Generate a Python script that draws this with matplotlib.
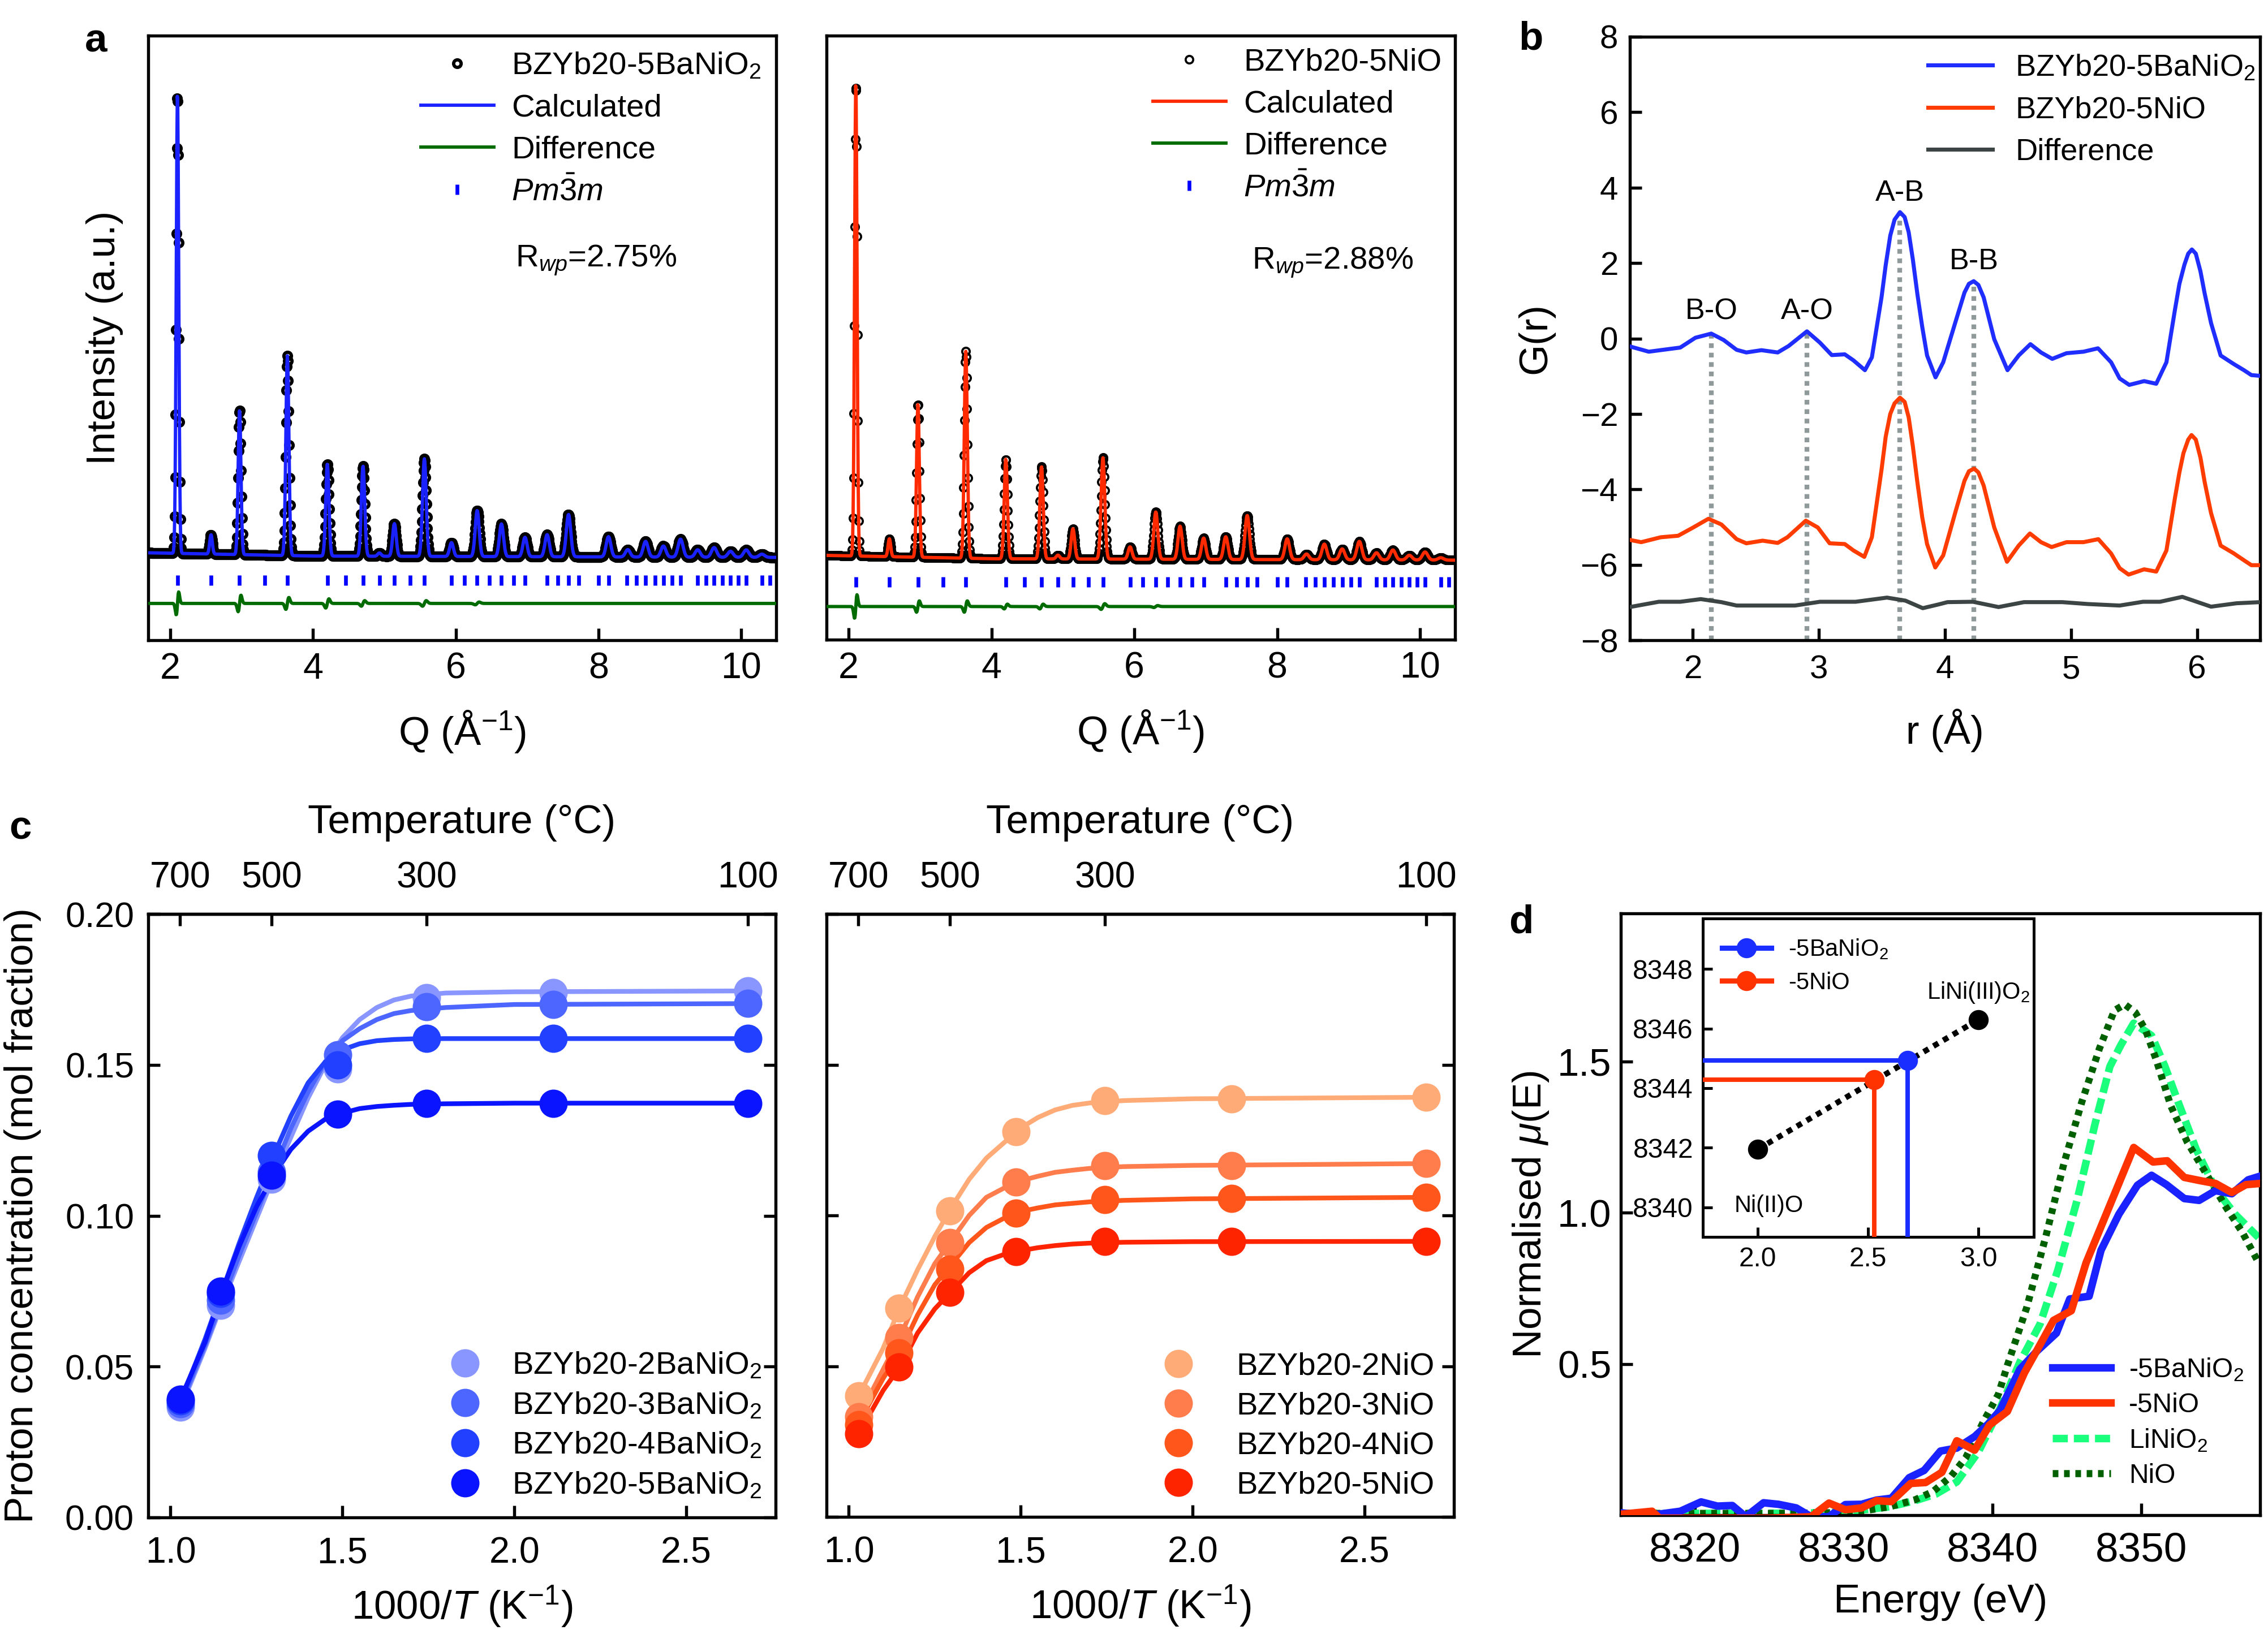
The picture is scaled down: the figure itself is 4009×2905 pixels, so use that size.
import numpy as np
import matplotlib
matplotlib.use("Agg")
import matplotlib.pyplot as plt

plt.rcParams['font.family'] = ['Liberation Sans', 'DejaVu Sans']
plt.rcParams['mathtext.fontset'] = 'custom'
plt.rcParams['mathtext.rm'] = 'Liberation Sans'
plt.rcParams['mathtext.it'] = 'Liberation Sans:italic'
plt.rcParams['mathtext.bf'] = 'Liberation Sans:bold'
plt.rcParams['axes.linewidth'] = 1.3

# ============================================================
# DATA
# ============================================================

# --- a: diffraction (peak positions / heights) ---
q_ticks = [2.10, 2.57, 2.97, 3.32, 3.64, 4.20, 4.46, 4.70, 4.93, 5.14, 5.36, 5.56,
           5.94, 6.12, 6.30, 6.47, 6.64, 6.81, 6.97, 7.28, 7.43, 7.58, 7.72, 8.00,
           8.14, 8.40, 8.53, 8.66, 8.79, 8.91, 9.03, 9.15, 9.39, 9.51, 9.62, 9.74,
           9.85, 9.96, 10.07, 10.29, 10.40]
peak_q = [2.10, 2.57, 2.97, 3.64, 4.20, 4.70, 4.93, 5.14, 5.56, 5.94, 6.30, 6.64,
          6.97, 7.28, 7.58, 8.14, 8.41, 8.66, 8.91, 9.15, 9.39, 9.62, 9.85, 10.07, 10.29]
peak_h_ba = [100, 4.2, 31.4, 43.4, 20.0, 19.6, 0.7, 7.1, 21.2, 3.0, 10.0, 7.1,
             4.2, 4.8, 9.2, 4.4, 1.6, 3.4, 2.4, 3.9, 1.6, 2.1, 1.3, 1.6, 0.7]
peak_h_ni = [100, 3.8, 32.4, 43.7, 21.1, 19.5, 0.8, 6.4, 21.4, 2.6, 10.0, 7.0,
             4.5, 4.8, 9.3, 4.4, 1.2, 3.3, 2.3, 3.9, 1.5, 2.1, 1.0, 1.7, 0.5]
bg_q = [1.7, 4.0, 10.5]
bg_i = [1.0, 0.3, 0.0]
diff_q = [2.10, 2.97, 3.64, 4.20, 4.70, 5.56, 6.30]
diff_a_ba = [2.5, 1.8, 1.3, 1.0, 0.6, 0.6, 0.3]
diff_a_ni = [2.5, 1.2, 1.2, 0.5, 0.5, 0.6, 0.2]

# --- b: PDF G(r) ---
r_ba = [1.50, 1.65, 1.90, 2.02, 2.146, 2.244, 2.347, 2.424, 2.544, 2.673, 2.759, 2.905,
        3.008, 3.102, 3.205, 3.274, 3.365, 3.42, 3.497, 3.53, 3.566, 3.60, 3.643, 3.68,
        3.712, 3.745, 3.781, 3.82, 3.858, 3.925, 3.986, 4.088, 4.155, 4.19, 4.228, 4.265,
        4.307, 4.391, 4.496, 4.585, 4.678, 4.762, 4.851, 4.964, 5.099, 5.214, 5.318, 5.386,
        5.462, 5.580, 5.676, 5.757, 5.824, 5.86, 5.90, 5.93, 5.959, 5.99, 6.027, 6.06,
        6.111, 6.187, 6.288, 6.372, 6.431, 6.50]
g_ba = [-0.21, -0.35, -0.24, 0.02, 0.13, -0.04, -0.30, -0.37, -0.31, -0.37, -0.20, 0.19,
        -0.11, -0.44, -0.42, -0.58, -0.84, -0.50, 1.10, 1.95, 2.73, 3.15, 3.35, 3.22,
        2.82, 2.10, 1.18, 0.30, -0.45, -1.03, -0.63, 0.49, 1.22, 1.45, 1.52, 1.42,
        1.09, -0.02, -0.84, -0.45, -0.15, -0.37, -0.54, -0.39, -0.35, -0.26, -0.63, -1.06,
        -1.23, -1.13, -1.20, -0.63, 0.75, 1.45, 1.96, 2.25, 2.36, 2.25, 1.78, 1.20,
        0.41, -0.45, -0.67, -0.84, -0.97, -0.99]
r_ni = [1.50, 1.59, 1.745, 1.883, 2.003, 2.123, 2.226, 2.347, 2.424, 2.553, 2.673, 2.75,
        2.896, 2.991, 3.085, 3.205, 3.274, 3.36, 3.42, 3.497, 3.53, 3.566, 3.60, 3.643,
        3.68, 3.712, 3.745, 3.781, 3.82, 3.858, 3.923, 3.986, 4.088, 4.155, 4.19, 4.231,
        4.265, 4.307, 4.391, 4.492, 4.585, 4.674, 4.762, 4.846, 4.964, 5.099, 5.217, 5.318,
        5.386, 5.457, 5.580, 5.676, 5.757, 5.824, 5.86, 5.892, 5.93, 5.956, 5.99, 6.027,
        6.06, 6.111, 6.187, 6.288, 6.372, 6.431, 6.50]
g_ni = [-5.34, -5.40, -5.27, -5.23, -5.01, -4.78, -4.93, -5.32, -5.43, -5.36, -5.42, -5.27,
        -4.83, -5.01, -5.43, -5.45, -5.62, -5.79, -5.27, -3.47, -2.60, -2.00, -1.72, -1.57,
        -1.68, -2.09, -2.85, -3.81, -4.75, -5.45, -6.07, -5.75, -4.54, -3.77, -3.52, -3.45,
        -3.55, -3.90, -5.01, -5.92, -5.49, -5.17, -5.40, -5.53, -5.40, -5.40, -5.32, -5.70,
        -6.09, -6.26, -6.12, -6.18, -5.62, -4.24, -3.55, -3.04, -2.68, -2.56, -2.68, -3.16,
        -3.80, -4.63, -5.49, -5.69, -5.88, -6.01, -6.01]
r_diff = [1.50, 1.73, 1.90, 2.063, 2.226, 2.347, 2.518, 2.81, 3.008, 3.291, 3.54, 3.686,
          3.824, 3.95, 4.02, 4.222, 4.425, 4.627, 4.931, 5.133, 5.386, 5.571, 5.706, 5.883,
          6.111, 6.313, 6.50]
g_diff = [-7.12, -6.98, -6.98, -6.91, -6.99, -7.08, -7.08, -7.08, -6.98, -6.98, -6.87, -6.95,
          -7.15, -7.05, -6.99, -6.98, -7.12, -6.99, -6.99, -7.04, -7.08, -6.98, -6.98, -6.85,
          -7.11, -7.02, -6.99]
bond_names = ["B-O", "A-O", "A-B", "B-B"]
bond_r = [2.146, 2.905, 3.643, 4.228]
bond_top = [0.13, 0.19, 3.35, 1.52]
bond_label_y = [0.71, 0.71, 3.85, 2.04]

# --- c: proton concentration ---
temp_c = [700, 500, 300, 100]
inv_t = [1.028, 1.145, 1.293, 1.486, 1.745, 2.113, 2.680]
fit_x = [1.028, 1.10, 1.15, 1.20, 1.25, 1.30, 1.35, 1.40, 1.45, 1.50, 1.55, 1.60,
         1.65, 1.70, 1.80, 2.00, 2.68]
ba_names = ["BZYb20-2BaNiO$_2$", "BZYb20-3BaNiO$_2$", "BZYb20-4BaNiO$_2$", "BZYb20-5BaNiO$_2$"]
ba_pts = [[0.0365, 0.0702, 0.112, 0.1487, 0.1723, 0.174, 0.1745],
          [0.0377, 0.072, 0.1145, 0.1533, 0.1692, 0.170, 0.1703],
          [0.0386, 0.0743, 0.120, 0.150, 0.1587, 0.1587, 0.1587],
          [0.0392, 0.075, 0.1134, 0.1336, 0.1373, 0.1373, 0.1373]]
ba_fit = [[0.036, 0.056, 0.071, 0.085, 0.099, 0.113, 0.126, 0.139, 0.150, 0.159, 0.165, 0.169,
           0.1715, 0.1728, 0.1738, 0.1742, 0.1745],
          [0.037, 0.057, 0.072, 0.087, 0.101, 0.115, 0.129, 0.141, 0.151, 0.158, 0.162, 0.165,
           0.167, 0.168, 0.169, 0.170, 0.1703],
          [0.038, 0.059, 0.075, 0.091, 0.106, 0.120, 0.133, 0.144, 0.151, 0.155, 0.157, 0.158,
           0.1584, 0.1586, 0.1587, 0.1587, 0.1587],
          [0.039, 0.058, 0.075, 0.090, 0.103, 0.1135, 0.122, 0.128, 0.132, 0.134, 0.1355, 0.1362,
           0.1366, 0.1369, 0.1371, 0.1373, 0.1373]]
ni_names = ["BZYb20-2NiO", "BZYb20-3NiO", "BZYb20-4NiO", "BZYb20-5NiO"]
ni_pts = [[0.0401, 0.0693, 0.1015, 0.1277, 0.138, 0.1387, 0.1392],
          [0.0333, 0.0595, 0.091, 0.111, 0.1166, 0.1166, 0.1172],
          [0.0306, 0.0544, 0.0822, 0.1007, 0.1052, 0.1056, 0.106],
          [0.0275, 0.0498, 0.0745, 0.0879, 0.0914, 0.0914, 0.0914]]
ni_fit = [[0.040, 0.056, 0.070, 0.082, 0.093, 0.103, 0.112, 0.119, 0.124, 0.129, 0.1325, 0.135,
           0.1365, 0.1373, 0.1381, 0.1387, 0.1392],
          [0.033, 0.049, 0.060, 0.073, 0.084, 0.092, 0.100, 0.106, 0.109, 0.1115, 0.113, 0.1143,
           0.115, 0.1156, 0.1162, 0.1166, 0.1172],
          [0.031, 0.046, 0.055, 0.067, 0.077, 0.084, 0.091, 0.096, 0.099, 0.1013, 0.1025, 0.1035,
           0.104, 0.1045, 0.1050, 0.1055, 0.106],
          [0.0275, 0.042, 0.050, 0.061, 0.069, 0.075, 0.081, 0.085, 0.087, 0.0883, 0.0893, 0.090,
           0.0905, 0.0908, 0.0911, 0.0913, 0.0914]]

# --- d: XANES ---
e_ba = [8315.0, 8316.1, 8317.5, 8319.0, 8320.4, 8321.5, 8322.5, 8323.4, 8324.6, 8325.6,
        8326.8, 8327.8, 8329.0, 8330.1, 8331.2, 8332.2, 8333.2, 8334.4, 8335.4, 8336.5,
        8337.6, 8338.8, 8339.7, 8340.5, 8341.85, 8343.0, 8344.3, 8345.2, 8346.5, 8347.3,
        8348.5, 8349.75, 8350.7, 8351.7, 8352.9, 8353.9, 8355.0, 8356.1, 8357.2, 8358.0]
mu_ba = [0.008, 0.002, 0.003, 0.013, 0.044, 0.030, 0.032, -0.005, 0.041, 0.036,
         0.024, -0.005, -0.005, 0.035, 0.036, 0.050, 0.056, 0.124, 0.148, 0.212,
         0.222, 0.260, 0.301, 0.346, 0.483, 0.543, 0.602, 0.715, 0.724, 0.876,
         0.995, 1.091, 1.124, 1.093, 1.047, 1.041, 1.073, 1.063, 1.109, 1.121]
e_ni = [8315.0, 8317.1, 8317.6, 8320.0, 8322.0, 8325.0, 8327.8, 8329.0, 8330.1, 8331.2,
        8332.2, 8333.2, 8334.5, 8335.5, 8336.6, 8337.6, 8338.8, 8339.8, 8341.0, 8342.15,
        8342.9, 8344.1, 8345.3, 8346.3, 8348.35, 8349.5, 8350.8, 8351.75, 8352.9, 8354.0,
        8355.0, 8356.1, 8357.05, 8358.0]
mu_ni = [0.003, 0.013, -0.01, -0.01, -0.01, -0.01, -0.005, 0.040, 0.018, 0.024,
         0.048, 0.045, 0.105, 0.108, 0.142, 0.246, 0.215, 0.298, 0.343, 0.471,
         0.537, 0.644, 0.676, 0.835, 1.079, 1.216, 1.168, 1.172, 1.117, 1.106,
         1.097, 1.067, 1.093, 1.097]
e_lini = [8315, 8320, 8325, 8329, 8331.4, 8333.1, 8334.8, 8336.2, 8337.6, 8339.05,
          8340.5, 8341.85, 8343.2, 8344.4, 8345.7, 8346.9, 8347.9, 8348.65, 8349.5, 8350.7,
          8351.6, 8352.5, 8353.7, 8355.0, 8356.3, 8357.9]
mu_lini = [0.006, 0.006, 0.006, 0.008, 0.018, 0.028, 0.048, 0.070, 0.110, 0.209,
           0.352, 0.507, 0.632, 0.811, 1.043, 1.294, 1.484, 1.556, 1.627, 1.586,
           1.484, 1.365, 1.210, 1.079, 0.996, 0.918]
e_nio = [8315, 8320, 8325, 8329, 8331.4, 8333.1, 8334.8, 8336.0, 8337.2, 8338.2,
         8339.4, 8340.4, 8341.0, 8342.3, 8343.6, 8344.8, 8346.0, 8347.2, 8348.2, 8348.9,
         8349.6, 8350.3, 8351.0, 8352.0, 8353.1, 8354.4, 8355.7, 8356.8, 8357.9]
mu_nio = [0.006, 0.006, 0.006, 0.008, 0.015, 0.028, 0.051, 0.078, 0.128, 0.190,
          0.310, 0.400, 0.495, 0.686, 0.924, 1.162, 1.365, 1.544, 1.669, 1.689,
          1.663, 1.604, 1.508, 1.353, 1.234, 1.127, 1.019, 0.936, 0.835]

# inset: edge position vs Ni oxidation state
ox_ref = [2.0, 3.0]
edge_ref = [8341.95, 8346.3]
ox_ba, edge_ba = 2.678, 8344.92
ox_ni, edge_ni = 2.527, 8344.28

# colours
BLUE = "#1a22ff"
RED = "#ff3300"
GREEN = "#006b00"
ba_cols = ["#8a96ff", "#4d66ff", "#2140ff", "#0a14ff"]
ni_cols = ["#ffab78", "#ff7c4c", "#ff561c", "#ff2400"]

# ============================================================
# FIGURE
# ============================================================
W, H = 4009, 2905
fig = plt.figure(figsize=(W / 300, H / 300), dpi=300)


def box(x0, y0, x1, y1):
    return [x0 / W, 1 - y1 / H, (x1 - x0) / W, (y1 - y0) / H]


ax_a1 = fig.add_axes(box(262, 63, 1372, 1132))
ax_a2 = fig.add_axes(box(1461, 63, 2572, 1131))
ax_b = fig.add_axes(box(2881, 65, 3995, 1132))
ax_c1 = fig.add_axes(box(262, 1616, 1371, 2683))
ax_c2 = fig.add_axes(box(1461, 1616, 2570, 2682))
ax_d = fig.add_axes(box(2865, 1615, 3995, 2679))

TICK = dict(direction="in", length=5, width=1.3)

# ------------------------------------------------------------
# a: Rietveld fits
# ------------------------------------------------------------


def rietveld(ax, heights, damps, color, sample, rwp, rwp_xy, y_tick, y_diff, ylim, mew, leg_xy):
    q = np.arange(1.69, 10.5, 0.006)
    calc = np.interp(q, bg_q, bg_i)
    for c, h in zip(peak_q, heights):
        s = 0.012 + 0.0025 * c
        calc = calc + h * np.exp(-(q - c) ** 2 / (2 * s * s))
    dif = np.zeros_like(q)
    for c, d in zip(diff_q, damps):
        s = 0.012 + 0.0025 * c
        dif = dif + d * 1.65 * (q - c) / s * np.exp(-(q - c) ** 2 / (2 * s * s))
    obs = calc + dif
    ax.plot(q, obs, "o", ms=3.2, mfc="none", mec="k", mew=mew, label=sample, zorder=2)
    ax.plot(q, calc, color=color, lw=1.4, label="Calculated", zorder=3)
    ax.plot(q, dif + y_diff, color=GREEN, lw=1.4, label="Difference", zorder=3)
    ax.plot(q_ticks, [y_tick] * len(q_ticks), "|", color="#0000ff", ms=4.5, mew=1.6,
            label=r"$Pm\bar{3}m$", linestyle="none")
    ax.set_xlim(1.69, 10.49)
    ax.set_ylim(*ylim)
    ax.set_yticks([])
    ax.set_xticks([2, 4, 6, 8, 10])
    ax.tick_params(axis="x", labelsize=15.5, pad=5, **TICK)
    ax.set_xlabel("Q (Å$^{-1}$)", fontsize=17)
    ax.xaxis.set_label_coords(0.5, -0.113)
    ax.legend(loc="upper left", bbox_to_anchor=leg_xy, frameon=False, fontsize=13.5,
              handlelength=2.3, handletextpad=0.55, labelspacing=0.39, borderpad=0,
              borderaxespad=0, numpoints=1)
    ax.text(rwp_xy[0], rwp_xy[1], r"R$_{wp}$=" + rwp, transform=ax.transAxes,
            fontsize=13.5, va="center", ha="left")


rietveld(ax_a1, peak_h_ba, diff_a_ba, BLUE, "BZYb20-5BaNiO$_2$", "2.75%", (0.585, 0.628),
         -5.0, -10.0, (-18.0, 113.4), 1.4, (0.434, 0.974))
rietveld(ax_a2, peak_h_ni, diff_a_ni, "#ff2a00", "BZYb20-5NiO", "2.88%", (0.677, 0.624),
         -4.6, -9.8, (-16.8, 110.8), 0.9, (0.519, 0.980))
ax_a1.set_ylabel("Intensity (a.u.)", fontsize=17)
ax_a1.yaxis.set_label_coords(-0.04, 0.5)

# ------------------------------------------------------------
# b: PDF
# ------------------------------------------------------------
ax_b.plot(r_ba, g_ba, color="#1f2eff", lw=1.7, label="BZYb20-5BaNiO$_2$", zorder=3)
ax_b.plot(r_ni, g_ni, color="#ff3c00", lw=1.7, label="BZYb20-5NiO", zorder=3)
ax_b.plot(r_diff, g_diff, color="#3c4444", lw=1.7, label="Difference", zorder=3)
for name, r, top, ly in zip(bond_names, bond_r, bond_top, bond_label_y):
    ax_b.plot([r, r], [-8, top], color="#8f9999", lw=2.0, linestyle=(0, (1, 1)), zorder=2)
    ax_b.text(r, ly, name, fontsize=12.5, ha="center", va="center")
ax_b.set_xlim(1.5, 6.5)
ax_b.set_ylim(-8, 8)
ax_b.set_xticks([2, 3, 4, 5, 6])
ax_b.set_yticks(range(-8, 9, 2))
ax_b.set_yticklabels([str(v).replace("-", "\u2212") for v in range(-8, 9, 2)])
ax_b.tick_params(labelsize=14, **TICK)
ax_b.tick_params(axis="x", pad=6)
ax_b.tick_params(axis="y", pad=5)
ax_b.set_xlabel("r (Å)", fontsize=17)
ax_b.xaxis.set_label_coords(0.5, -0.113)
ax_b.set_ylabel("G(r)", fontsize=17)
ax_b.yaxis.set_label_coords(-0.12, 0.5)
ax_b.legend(loc="upper left", bbox_to_anchor=(0.473, 0.973), frameon=False, fontsize=13,
            handlelength=2.1, handletextpad=0.75, labelspacing=0.45, borderpad=0,
            borderaxespad=0)

# ------------------------------------------------------------
# c: proton concentration
# ------------------------------------------------------------


def proton(ax, names, pts, fits, cols, leg_xy, leg_pad, ylabels):
    for name, p, f, c in zip(names, pts, fits, cols):
        ax.plot(fit_x, f, color=c, lw=2.0, zorder=2)
        ax.plot(inv_t, p, "o", color=c, ms=12, mec="none", label=name, zorder=3)
    ax.set_xlim(0.935, 2.76)
    ax.set_ylim(0, 0.2)
    ax.set_xticks([1.0, 1.5, 2.0, 2.5])
    ax.set_yticks([0.0, 0.05, 0.10, 0.15, 0.20])
    ax.tick_params(labelsize=15.5, right=True, **TICK)
    ax.tick_params(axis="x", pad=8)
    ax.tick_params(axis="y", pad=6, labelleft=ylabels, labelsize=15)
    if ylabels:
        ax.set_yticklabels(["0.00", "0.05", "0.10", "0.15", "0.20"])
    ax.set_xlabel("1000/$T$ (K$^{-1}$)", fontsize=17)
    ax.xaxis.set_label_coords(0.5, -0.11)
    top = ax.secondary_xaxis("top")
    top.set_xticks([1000 / (t + 273.15) for t in temp_c], [str(t) for t in temp_c])
    top.tick_params(labelsize=15.5, pad=8, **TICK)
    ax.text(0.5, 1.12, "Temperature (°C)", transform=ax.transAxes, fontsize=17,
            ha="center", va="bottom")
    ax.legend(loc="upper left", bbox_to_anchor=leg_xy, frameon=False, fontsize=13.5,
              handlelength=1.5, handletextpad=leg_pad, labelspacing=0.32, borderpad=0,
              borderaxespad=0, numpoints=1)


proton(ax_c1, ba_names, ba_pts, ba_fit, ba_cols, (0.467, 0.276), 0.72, True)
proton(ax_c2, ni_names, ni_pts, ni_fit, ni_cols, (0.523, 0.273), 1.06, False)
ax_c1.set_ylabel("Proton concentration (mol fraction)", fontsize=17)
ax_c1.yaxis.set_label_coords(-0.17, 0.5)

# ------------------------------------------------------------
# d: XANES
# ------------------------------------------------------------
ax_d.plot(e_ba, mu_ba, color=BLUE, lw=3.2, label="-5BaNiO$_2$", zorder=3)
ax_d.plot(e_ni, mu_ni, color=RED, lw=3.2, label="-5NiO", zorder=3)
ax_d.plot(e_lini, mu_lini, color="#1aff7c", lw=3.2, linestyle=(0, (2.0, 0.8)),
          label="LiNiO$_2$", zorder=2)
ax_d.plot(e_nio, mu_nio, color="#006000", lw=3.0, linestyle=(0, (0.8, 0.8)),
          label="NiO", zorder=2)
ax_d.set_xlim(8315, 8358)
ax_d.set_ylim(0, 1.99)
ax_d.set_xticks([8320, 8330, 8340, 8350])
ax_d.set_yticks([0.5, 1.0, 1.5])
ax_d.tick_params(labelsize=16.5, **TICK)
ax_d.tick_params(axis="x", pad=7, labelsize=17.5)
ax_d.tick_params(axis="y", pad=4)
ax_d.set_xlabel("Energy (eV)", fontsize=17)
ax_d.xaxis.set_label_coords(0.5, -0.114)
ax_d.set_ylabel(r"Normalised $\mu$(E)", fontsize=17)
ax_d.yaxis.set_label_coords(-0.11, 0.5)
ax_d.legend(loc="upper left", bbox_to_anchor=(0.675, 0.264), frameon=False, fontsize=11.5,
            handlelength=2.15, handletextpad=0.68, labelspacing=0.35, borderpad=0,
            borderaxespad=0)

ins = ax_d.inset_axes([0.128, 0.462, 0.518, 0.530])
ins.plot(ox_ref, edge_ref, color="k", lw=2.4, linestyle=(0, (1, 1)), zorder=2)
ins.plot(ox_ref, edge_ref, "o", color="k", ms=7.5, linestyle="none", zorder=4)
ins.plot([1.75, ox_ba, ox_ba], [edge_ba, edge_ba, 8339], color="#1a2eff", lw=1.9, zorder=3)
ins.plot([1.75, ox_ni, ox_ni], [edge_ni, edge_ni, 8339], color="#ff3300", lw=1.9, zorder=3)
ins.plot([ox_ba], [edge_ba], "o", color="#1a2eff", ms=7.5, zorder=4)
ins.plot([ox_ni], [edge_ni], "o", color="#ff3300", ms=7.5, zorder=4)
ins.plot([], [], "o-", color="#1a2eff", lw=2.2, ms=7.5, label="-5BaNiO$_2$")
ins.plot([], [], "o-", color="#ff3300", lw=2.2, ms=7.5, label="-5NiO")
ins.text(2.05, 8340.05, "Ni(II)O", fontsize=10, ha="center", va="center")
ins.text(3.0, 8347.2, "LiNi(III)O$_2$", fontsize=10, ha="center", va="center")
ins.set_xlim(1.75, 3.25)
ins.set_ylim(8339.0, 8349.7)
ins.set_xticks([2.0, 2.5, 3.0])
ins.set_yticks([8340, 8342, 8344, 8346, 8348])
ins.tick_params(labelsize=11.5, direction="in", length=4, width=1.2, pad=4)
for sp in ins.spines.values():
    sp.set_linewidth(1.2)
ins.legend(loc="upper left", bbox_to_anchor=(0.058, 0.94), frameon=False, fontsize=10,
           handlelength=2.1, handletextpad=0.72, labelspacing=0.45, borderpad=0,
           borderaxespad=0)

# panel letters
for letter, x, y in [("a", 170, 73), ("b", 2706, 69), ("c", 36, 1466), ("d", 2689, 1631)]:
    fig.text(x / W, 1 - y / H, letter, fontsize=17, fontweight="bold", ha="center", va="center")

fig.savefig("out.png", dpi=300)
